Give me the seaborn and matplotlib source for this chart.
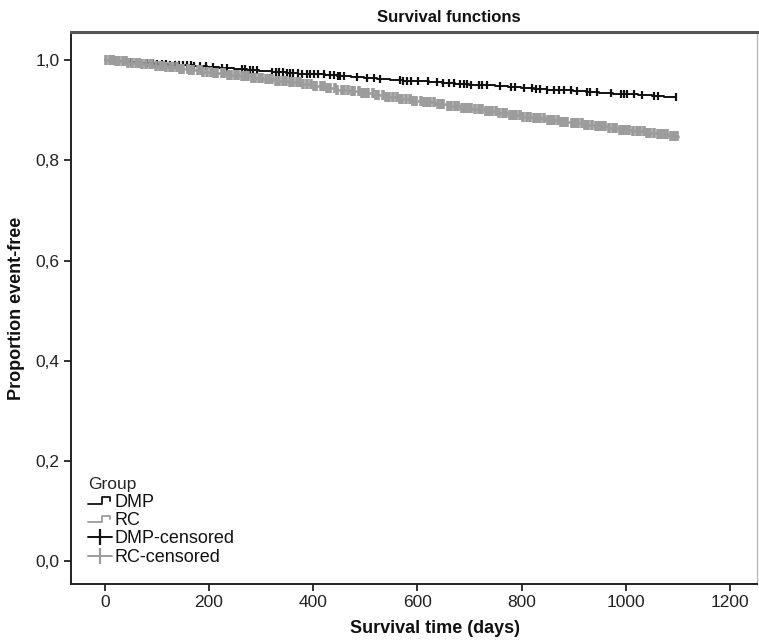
import numpy as np
import pandas as pd
import seaborn as sns
import matplotlib
matplotlib.use("Agg")
import matplotlib.pyplot as plt
from matplotlib.lines import Line2D
from matplotlib.legend_handler import HandlerBase

# =========================================================
# DATA
# =========================================================
DMP_TIMES = [0, 22, 48, 71, 95, 121, 146, 170, 196, 220, 247, 272, 296, 321, 347,
             371, 398, 422, 446, 472, 497, 522, 548, 573, 597, 623, 648, 672, 699,
             723, 748, 774, 798, 823, 849, 873, 899, 924, 949, 975, 1000, 1024,
             1050, 1074, 1095]
DMP_SURV = [1.000, 0.998, 0.997, 0.995, 0.993, 0.991, 0.990, 0.988, 0.986, 0.984,
            0.982, 0.981, 0.979, 0.977, 0.975, 0.973, 0.972, 0.970, 0.968, 0.966,
            0.964, 0.963, 0.961, 0.959, 0.958, 0.956, 0.954, 0.953, 0.951, 0.950,
            0.948, 0.946, 0.945, 0.943, 0.941, 0.940, 0.938, 0.937, 0.935, 0.933,
            0.932, 0.930, 0.929, 0.927, 0.926]

RC_TIMES = [0, 20, 44, 68, 91, 114, 139, 162, 186, 209, 233, 257, 280, 304, 328,
            351, 375, 398, 422, 446, 469, 493, 516, 540, 563, 587, 611, 634, 658,
            681, 705, 729, 752, 776, 799, 823, 847, 870, 894, 917, 941, 965, 988,
            1012, 1035, 1059, 1082, 1100]
RC_SURV = [1.000, 0.998, 0.995, 0.992, 0.989, 0.986, 0.983, 0.980, 0.977, 0.974,
           0.971, 0.968, 0.965, 0.962, 0.959, 0.956, 0.952, 0.949, 0.945, 0.941,
           0.938, 0.934, 0.930, 0.927, 0.923, 0.919, 0.916, 0.912, 0.909, 0.905,
           0.902, 0.898, 0.895, 0.891, 0.887, 0.884, 0.881, 0.877, 0.874, 0.871,
           0.868, 0.864, 0.861, 0.858, 0.855, 0.852, 0.849, 0.846]

DMP_CENSORED = [20, 35, 50, 65, 80, 92, 100, 110, 118, 125, 135, 142, 150, 158, 165,
                172, 183, 195, 208, 224, 234, 263, 270, 278, 285, 292, 321, 328, 335,
                342, 350, 356, 362, 370, 378, 388, 394, 402, 410, 420, 433, 440, 447,
                452, 459, 484, 503, 516, 529, 567, 573, 580, 587, 602, 621, 638, 650,
                660, 670, 682, 689, 695, 702, 718, 724, 734, 759, 779, 788, 804, 820,
                827, 836, 849, 862, 872, 881, 894, 907, 926, 932, 945, 971, 990, 996,
                1003, 1016, 1032, 1054, 1061, 1096]

RC_CENSORED = [3, 9, 15, 22, 27, 34, 41, 45, 53, 60, 66, 71, 79, 86, 90, 98, 105, 112,
               117, 125, 131, 138, 144, 151, 159, 163, 170, 178, 184, 189, 197, 204,
               210, 216, 224, 229, 236, 243, 250, 255, 263, 270, 274, 282, 289, 296,
               301, 309, 315, 320, 329, 335, 342, 348, 355, 361, 369, 374, 380, 388,
               395, 401, 406, 414, 421, 427, 433, 441, 446, 455, 460, 467, 474, 479,
               487, 494, 499, 506, 514, 520, 525, 533, 540, 545, 553, 560, 566, 571,
               579, 586, 592, 598, 606, 612, 619, 624, 632, 639, 645, 650, 658, 665,
               672, 677, 685, 692, 698, 703, 711, 718, 724, 731, 737, 744, 751, 756,
               764, 770, 777, 784, 789, 797, 803, 810, 816, 823, 830, 835, 843, 850,
               856, 862, 869, 876, 882, 888, 896, 902, 909, 915, 922, 928, 935, 942,
               949, 955, 961, 968, 975, 981, 988, 995, 1001, 1007, 1014, 1021, 1027,
               1034, 1041, 1047, 1054, 1061, 1067, 1074, 1080, 1087, 1093, 1099]

Y_TICKS = [0.0, 0.2, 0.4, 0.6, 0.8, 1.0]
Y_TICKLABELS = ["0,0", "0,2", "0,4", "0,6", "0,8", "1,0"]
X_TICKS = [0, 200, 400, 600, 800, 1000, 1200]

COL_DMP = "#111111"
COL_RC = "#9c9c9c"


def surv_at(times, surv, t):
    idx = np.searchsorted(np.asarray(times), np.asarray(t), side="right") - 1
    return np.asarray(surv)[idx]


lines_dmp = pd.DataFrame({"time": DMP_TIMES, "surv": DMP_SURV})
lines_rc = pd.DataFrame({"time": RC_TIMES, "surv": RC_SURV})
cens_dmp = pd.DataFrame({"time": DMP_CENSORED,
                         "surv": surv_at(DMP_TIMES, DMP_SURV, DMP_CENSORED)})
cens_rc = pd.DataFrame({"time": RC_CENSORED,
                        "surv": surv_at(RC_TIMES, RC_SURV, RC_CENSORED)})

# =========================================================
# STYLE
# =========================================================
sns.set_style("ticks")
plt.rcParams["font.family"] = ["Liberation Sans", "DejaVu Sans"]
plt.rcParams["font.size"] = 12.5

fig = plt.figure(figsize=(7.59, 6.44), dpi=100)
ax = fig.add_axes([0.0935, 0.093, 0.904, 0.857])

sns.lineplot(data=lines_dmp, x="time", y="surv", color=COL_DMP,
             drawstyle="steps-post", estimator=None, sort=False, lw=1.4,
             ax=ax, legend=False, zorder=2)
sns.scatterplot(data=cens_dmp, x="time", y="surv", color=COL_DMP, marker="|",
                s=40, linewidth=1.6, ax=ax, legend=False, zorder=3)
sns.lineplot(data=lines_rc, x="time", y="surv", color=COL_RC,
             drawstyle="steps-post", estimator=None, sort=False, lw=1.8,
             ax=ax, legend=False, zorder=4)
sns.scatterplot(data=cens_rc, x="time", y="surv", color=COL_RC, marker="|",
                s=42, linewidth=2.6, ax=ax, legend=False, zorder=5)

ax.set_xlim(-65, 1252)
ax.set_ylim(-0.046, 1.056)
ax.set_xticks(X_TICKS)
ax.set_yticks(Y_TICKS)
ax.set_yticklabels(Y_TICKLABELS)
ax.tick_params(axis="both", length=5, width=1.3, direction="out",
               labelsize=12.5, pad=3, color="#222222", labelcolor="#222222")

for side in ["left", "bottom"]:
    ax.spines[side].set_linewidth(1.4)
    ax.spines[side].set_color("#222222")
ax.spines["top"].set_linewidth(2.2)
ax.spines["top"].set_color("#555555")
ax.spines["right"].set_linewidth(1.0)
ax.spines["right"].set_color("#bbbbbb")

ax.set_title("Survival functions", fontsize=12, fontweight="bold",
             x=0.55, pad=7, color="#111111")
ax.set_xlabel("Survival time (days)", fontsize=13, fontweight="bold",
              color="#111111")
ax.xaxis.set_label_coords(0.53, -0.065)
ax.set_ylabel("Proportion event-free", fontsize=13, fontweight="bold",
              labelpad=8, color="#111111")


# =========================================================
# LEGEND
# =========================================================
class StepHandler(HandlerBase):
    def create_artists(self, legend, orig_handle, xdescent, ydescent,
                       width, height, fontsize, trans):
        xs = np.array([0.0, 0.6, 0.6, 0.95, 0.95]) * width - xdescent
        ys = np.array([0.2, 0.2, 0.75, 0.75, 0.45]) * height - ydescent
        ln = Line2D(xs, ys, color=orig_handle.get_color(), lw=1.3, transform=trans)
        return [ln]


h_dmp = Line2D([], [], color=COL_DMP)
h_rc = Line2D([], [], color=COL_RC)
h_dmp_c = Line2D([0], [0], color=COL_DMP, lw=1.4, marker="|", markersize=11, mew=1.6)
h_rc_c = Line2D([0], [0], color=COL_RC, lw=1.4, marker="|", markersize=11, mew=1.6)

leg = ax.legend([h_dmp, h_rc, h_dmp_c, h_rc_c],
                ["DMP", "RC", "DMP-censored", "RC-censored"],
                title="Group", loc="lower left", bbox_to_anchor=(0.025, 0.033),
                frameon=False, fontsize=13, title_fontsize=12.5,
                handlelength=1.3, handletextpad=0.15, labelspacing=0.08,
                borderpad=0, borderaxespad=0,
                handler_map={h_dmp: StepHandler(), h_rc: StepHandler()})
leg._legend_box.align = "left"
for t in leg.get_texts():
    t.set_color("#111111")

fig.savefig("out.png", dpi=100)
